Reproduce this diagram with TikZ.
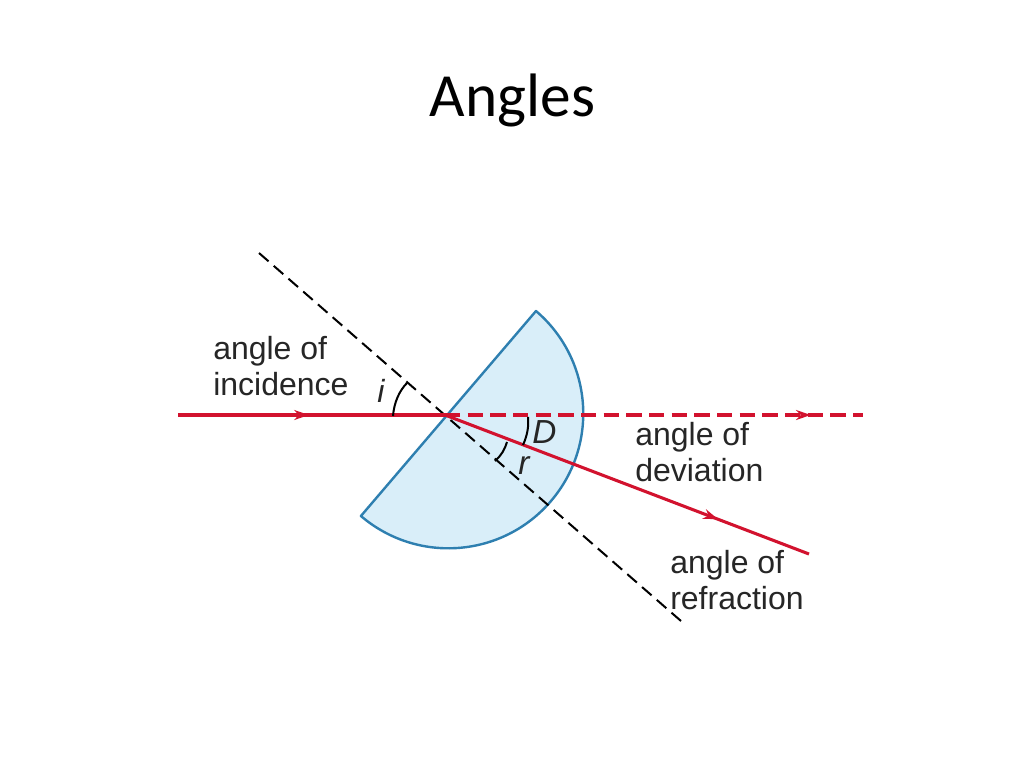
\documentclass[tikz,border=0pt]{standalone}
\usepackage{fontspec}
\setmainfont{Carlito}
\newfontfamily\lab{Liberation Sans}
\usetikzlibrary{decorations.markings,arrows.meta}
\definecolor{ray}{HTML}{D2122E}
\definecolor{glass}{HTML}{D9EEF9}
\definecolor{edge}{HTML}{2E7FB0}
\tikzset{px/.style={x=0.75pt,y=-0.75pt},
lbl/.style={font=\lab\fontsize{24}{28}\selectfont,text=black!85,inner sep=0,anchor=base west},
rayline/.style={draw=ray,line width=2.3pt},
normal/.style={draw=black,line width=1.5pt,dash pattern=on 9.5pt off 5.16pt},
arc/.style={draw=black,line width=1.5pt},
midarrow/.style={postaction={decorate,decoration={markings,mark=at position #1 with {\arrow[ray]{Stealth[length=11pt,width=7.5pt]}}}}}}
\begin{document}
\begin{tikzpicture}[px]
\useasboundingbox (0,0) rectangle (1024,768);
\fill[white] (0,0) rectangle (1024,768);
\node[font=\fontsize{46}{54}\selectfont,inner sep=0] (title) at (512.5,100) {Angles};
\coordinate (A) at (536,311);
\coordinate (B) at (361,516);
\fill[glass] (A) arc[start angle=-49.5,end angle=130.5,radius=134.8] -- cycle;
\draw[edge,line width=1.8pt,line join=round] (A) arc[start angle=-49.5,end angle=130.5,radius=134.8] -- cycle;
\coordinate (N1) at (259,253);
\coordinate (N2) at (681,621);
\draw[normal] (N1) -- (N2);
\coordinate (R0) at (178,415);
\coordinate (R1) at (445,415);
\coordinate (R2) at (863,415);
\coordinate (R3) at (809,554);
\draw[rayline,midarrow=0.49] (R0) -- (R1);
\draw[ray,line width=2.3pt,dash pattern=on 11.5pt off 5.5pt,midarrow=0.875] (R1) -- (R2);
\draw[rayline,midarrow=0.75] (R1) -- (R3);
\draw[arc] (393,416) .. controls (394,403) and (399,391) .. (407,383);
\draw[arc] (528,417) .. controls (529,427) and (527,436) .. (523,445);
\draw[arc] (507,442) .. controls (505,449) and (501,456) .. (495,461);
\node[lbl] (a1) at (213,359) {angle of};
\node[lbl] (a2) at (213,395) {incidence};
\node[lbl,font=\lab\itshape\fontsize{24}{28}\selectfont] (i) at (377,402) {i};
\node[lbl,font=\lab\itshape\fontsize{25}{28}\selectfont] (D) at (532,443) {D};
\node[lbl,font=\lab\itshape\fontsize{25}{28}\selectfont] (r) at (518,474) {r};
\node[lbl] (b1) at (635,445) {angle of};
\node[lbl] (b2) at (635,481) {deviation};
\node[lbl] (c1) at (670,573) {angle of};
\node[lbl] (c2) at (670,609) {refraction};
\end{tikzpicture}
\end{document}
